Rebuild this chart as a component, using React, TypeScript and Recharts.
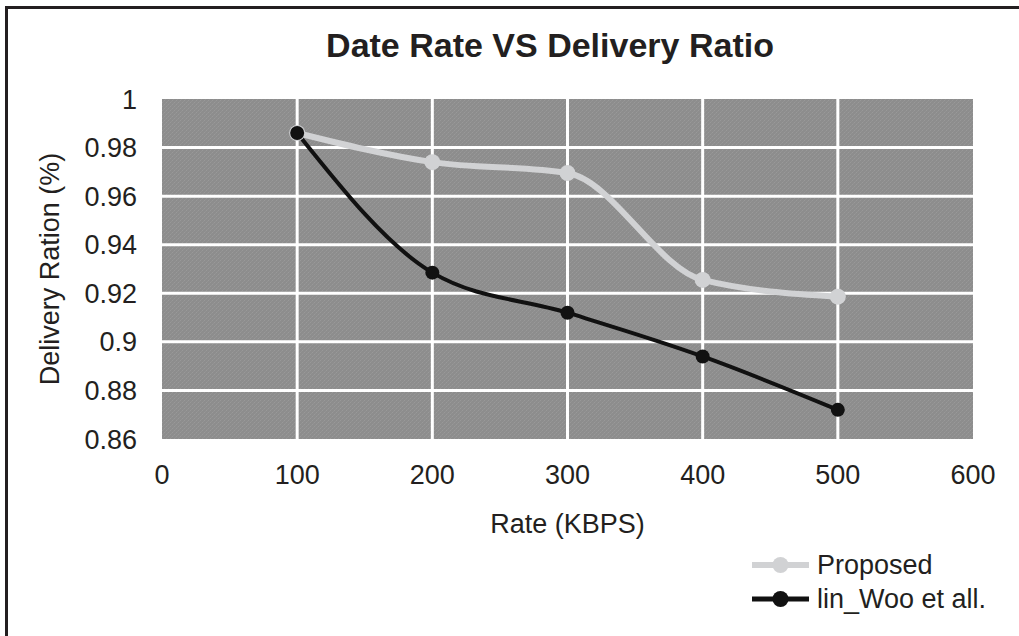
import { LineChart, Line, XAxis, YAxis, CartesianGrid, Legend, Label } from "recharts";

// Delivery ratio measured at each data rate (KBPS)
const rates = [100, 200, 300, 400, 500];
const proposed = [0.986, 0.974, 0.9695, 0.9255, 0.9186];
const linWoo = [0.986, 0.9285, 0.912, 0.894, 0.872];

const xTicks = [0, 100, 200, 300, 400, 500, 600];
const yTicks = [0.86, 0.88, 0.9, 0.92, 0.94, 0.96, 0.98, 1];
const xGridValues = [100, 200, 300, 400, 500];
const yGridValues = [0.88, 0.9, 0.92, 0.94, 0.96, 0.98];

const data = rates.map((rate, i) => ({
  rate,
  proposed: proposed[i],
  linWoo: linWoo[i],
}));

const FONT = '"Liberation Sans", Arial, Helvetica, sans-serif';
const INK = "#231f20";
const PROPOSED_COLOR = "#d1d2d4";
const LINWOO_COLOR = "#111111";

const legendStyles: Record<string, { width: number; r: number }> = {
  Proposed: { width: 6, r: 8 },
  "lin_Woo et all.": { width: 5, r: 8 },
};

function ChartLegend({ payload }: any) {
  return (
    <div style={{ fontFamily: FONT, fontSize: 27, color: INK }}>
      {(payload || []).map((entry: any) => {
        const s = legendStyles[entry.value] || { width: 5, r: 8 };
        return (
          <div
            key={entry.value}
            style={{ display: "flex", alignItems: "center", height: 34 }}
          >
            <svg width={57} height={34} style={{ display: "block" }}>
              <line
                x1={0}
                x2={57}
                y1={17}
                y2={17}
                stroke={entry.color}
                strokeWidth={s.width}
              />
              <circle cx={28.5} cy={17} r={s.r} fill={entry.color} />
            </svg>
            <span style={{ marginLeft: 8, lineHeight: "34px" }}>{entry.value}</span>
          </div>
        );
      })}
    </div>
  );
}

function YTitle({ viewBox }: any) {
  const cx = viewBox.x + 50;
  const cy = viewBox.y + viewBox.height / 2;
  return (
    <text
      x={cx}
      y={cy}
      transform={`rotate(-90 ${cx} ${cy})`}
      textAnchor="middle"
      dominantBaseline="central"
      fontFamily={FONT}
      fontSize={27}
      fill={INK}
    >
      Delivery Ration (%)
    </text>
  );
}

export default function App() {
  return (
    <div
      style={{
        position: "absolute",
        left: 0,
        top: 0,
        width: 1019,
        height: 636,
        background: "#fff",
        overflow: "hidden",
      }}
    >
      <div
        style={{
          position: "absolute",
          left: 5,
          top: 6,
          right: 0,
          bottom: 0,
          borderTop: `3px solid ${INK}`,
          borderLeft: `3px solid ${INK}`,
        }}
      />
      <div
        style={{
          position: "absolute",
          left: 0,
          width: 1100,
          top: 26,
          textAlign: "center",
          fontFamily: FONT,
          fontWeight: "bold",
          fontSize: 34,
          color: INK,
        }}
      >
        Date Rate VS Delivery Ratio
      </div>
      <LineChart
        width={1019}
        height={636}
        data={data}
        margin={{ top: 99, right: 46, left: 0, bottom: 97 }}
        style={{ position: "absolute", left: 0, top: 0 }}
      >
        <defs>
          <pattern id="halftone" width={4} height={4} patternUnits="userSpaceOnUse">
            <rect width={4} height={4} fill="#8d8d8d" />
            <rect x={0} y={0} width={1} height={1} fill="#999999" />
            <rect x={2} y={2} width={1} height={1} fill="#999999" />
            <rect x={1} y={3} width={1} height={1} fill="#939393" />
            <rect x={3} y={1} width={1} height={1} fill="#939393" />
          </pattern>
        </defs>
        <CartesianGrid
          fill="url(#halftone)"
          stroke="#ffffff"
          strokeWidth={3}
          verticalValues={xGridValues}
          horizontalValues={yGridValues}
        />
        <XAxis
          dataKey="rate"
          type="number"
          domain={[0, 600]}
          ticks={xTicks}
          height={100}
          axisLine={false}
          tickLine={false}
          tickSize={0}
          tickMargin={26}
          tick={{ fontFamily: FONT, fontSize: 27, fill: INK }}
        >
          <Label
            value="Rate (KBPS)"
            position="insideBottom"
            offset={6}
            style={{ fontFamily: FONT, fontSize: 27, fill: INK }}
          />
        </XAxis>
        <YAxis
          type="number"
          domain={[0.86, 1]}
          ticks={yTicks}
          width={162}
          axisLine={false}
          tickLine={false}
          tickSize={0}
          tickMargin={25}
          tickFormatter={(v) => String(v)}
          tick={{ fontFamily: FONT, fontSize: 27, fill: INK }}
        >
          <Label content={YTitle} />
        </YAxis>
        <Legend
          layout="horizontal"
          verticalAlign="middle"
          align="center"
          content={ChartLegend}
          wrapperStyle={{ position: "absolute", top: 548, left: 752, width: 260 }}
        />
        <Line
          type="monotone"
          dataKey="proposed"
          name="Proposed"
          stroke={PROPOSED_COLOR}
          strokeWidth={6}
          dot={{ r: 8, fill: PROPOSED_COLOR, stroke: "none" }}
          activeDot={false}
          isAnimationActive={false}
        />
        <Line
          type="monotone"
          dataKey="linWoo"
          name="lin_Woo et all."
          stroke={LINWOO_COLOR}
          strokeWidth={4}
          dot={{ r: 7, fill: LINWOO_COLOR, stroke: "none" }}
          activeDot={false}
          isAnimationActive={false}
        />
      </LineChart>
    </div>
  );
}
